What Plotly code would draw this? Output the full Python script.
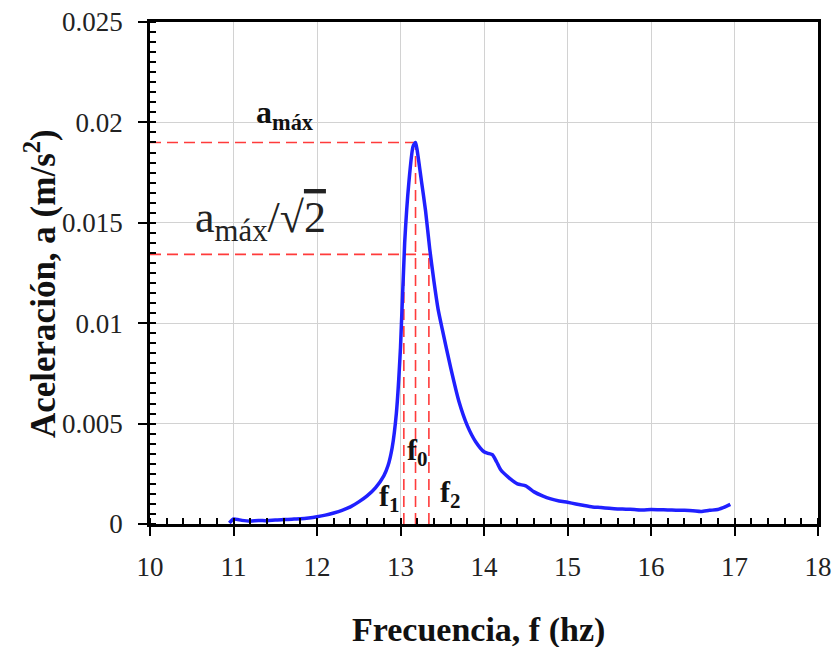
import plotly.graph_objects as go

# ---- data ----
freq = [10.95, 11.0, 11.05, 11.1, 11.2, 11.3, 11.4, 11.5, 11.6, 11.7, 11.8, 11.9,
        12.0, 12.1, 12.2, 12.3, 12.4, 12.5, 12.6, 12.7, 12.8, 12.85, 12.9, 12.95,
        13.0, 13.05, 13.1, 13.15, 13.18, 13.2, 13.25, 13.3, 13.35, 13.4, 13.45, 13.5,
        13.6, 13.7, 13.8, 13.9, 14.0, 14.05, 14.1, 14.15, 14.2, 14.3, 14.4, 14.5, 14.6,
        14.7, 14.8, 14.9, 15.0, 15.1, 15.2, 15.3, 15.4, 15.5, 15.6, 15.7, 15.8, 15.9,
        16.0, 16.1, 16.2, 16.3, 16.4, 16.5, 16.6, 16.7, 16.8, 16.9, 16.95]
accel = [0.00005, 0.00025, 0.00022, 0.00018, 0.00014, 0.00018, 0.00016, 0.0002, 0.00022, 0.00024, 0.00026, 0.0003,
         0.00036, 0.00044, 0.00055, 0.00068, 0.00085, 0.0011, 0.0014, 0.0018, 0.0024, 0.0029, 0.0038, 0.0055,
         0.0088, 0.0140, 0.0170, 0.0188, 0.0190, 0.0186, 0.0171, 0.0156, 0.0137, 0.0121, 0.0107, 0.0097,
         0.0078, 0.0061, 0.0049, 0.0041, 0.0036, 0.00352, 0.00345, 0.0031, 0.0027, 0.0023, 0.0020, 0.0019, 0.0016,
         0.0014, 0.00125, 0.00115, 0.00108, 0.0010, 0.00092, 0.00085, 0.00082, 0.00078, 0.00075, 0.00074, 0.00072, 0.0007,
         0.00072, 0.00071, 0.0007, 0.00069, 0.00068, 0.00066, 0.00062, 0.00068, 0.00072, 0.00088, 0.00098]

a_max = 0.0190
a_half = 0.01343
f0 = 13.18
f1 = 13.04
f2 = 13.34

x_ticks = [10, 11, 12, 13, 14, 15, 16, 17, 18]
y_ticks = [0, 0.005, 0.01, 0.015, 0.02, 0.025]
y_tick_text = ["0", "0.005", "0.01", "0.015", "0.02", "0.025"]

FONT = "Liberation Serif, Times New Roman, serif"
RED = "#ff3b3b"
BLUE = "#2020ff"

fig = go.Figure()

dash_style = dict(color=RED, width=1.6, dash="11px,6px")
# reference lines
fig.add_trace(go.Scatter(x=[10, f0], y=[a_max, a_max], mode="lines", line=dash_style, hoverinfo="skip"))
fig.add_trace(go.Scatter(x=[10, f2], y=[a_half, a_half], mode="lines", line=dash_style, hoverinfo="skip"))
fig.add_trace(go.Scatter(x=[f1, f1], y=[0, a_half], mode="lines", line=dash_style, hoverinfo="skip"))
fig.add_trace(go.Scatter(x=[f0, f0], y=[0, a_max], mode="lines", line=dash_style, hoverinfo="skip"))
fig.add_trace(go.Scatter(x=[f2, f2], y=[0, a_half], mode="lines", line=dash_style, hoverinfo="skip"))

# measured curve
fig.add_trace(go.Scatter(x=freq, y=accel, mode="lines",
                         line=dict(color=BLUE, width=3.5, shape="spline", smoothing=0.6)))

axis_common = dict(
    showline=True, linecolor="black", linewidth=2.5, mirror=True,
    showgrid=True, gridcolor="#d2d2d2", gridwidth=1,
    zeroline=False, automargin=False, ticklabeloverflow="allow",
    ticks="outside", ticklen=9, tickwidth=2, tickcolor="black",
    tickfont=dict(family=FONT, size=27, color="#222"),
)

fig.update_xaxes(range=[10, 18], tickvals=x_ticks, ticktext=[str(v) for v in x_ticks],
                 minor=dict(dtick=0.2, ticks="inside", ticklen=6, tickwidth=1.5, tickcolor="black", showgrid=False),
                 ticklabelstandoff=8, **axis_common)
fig.update_yaxes(range=[0, 0.025], tickvals=y_ticks, ticktext=y_tick_text,
                 minor=dict(dtick=0.0005, ticks="inside", ticklen=6, tickwidth=1.5, tickcolor="black", showgrid=False),
                 ticklabelstandoff=10, **axis_common)

c = dict(xanchor="center", yanchor="middle", showarrow=False)
ann = []
ann.append(dict(x=11.62, y=0.0204, xref="x", yref="y",
                text="<b>a<sub>máx</sub></b>", font=dict(family=FONT, size=32, color="#111"), **c))
ann.append(dict(x=11.32, y=0.0151, xref="x", yref="y",
                text="a<sub>máx</sub>/√<span style='text-decoration:overline'>2</span>",
                font=dict(family=FONT, size=44, color="#222"), **c))
ann.append(dict(x=13.2, y=0.0036, xref="x", yref="y",
                text="<b>f<sub>0</sub></b>", font=dict(family=FONT, size=30, color="#111"), **c))
ann.append(dict(x=12.87, y=0.0013, xref="x", yref="y",
                text="<b>f<sub>1</sub></b>", font=dict(family=FONT, size=30, color="#111"), **c))
ann.append(dict(x=13.6, y=0.0015, xref="x", yref="y",
                text="<b>f<sub>2</sub></b>", font=dict(family=FONT, size=30, color="#111"), **c))
# axis titles
ann.append(dict(x=0.4925, y=-0.211, xref="paper", yref="paper",
                text="<b>Frecuencia, f (hz)</b>", font=dict(family=FONT, size=34, color="#111"), **c))
ann.append(dict(x=-0.1647, y=0.48, xref="paper", yref="paper", textangle=-90,
                text="<b>Aceleración, a (m/s<sup>2</sup>)</b>", font=dict(family=FONT, size=35, color="#111"), **c))

fig.update_layout(
    width=833, height=647,
    margin=dict(l=150, r=15, t=22, b=123, autoexpand=False),
    font=dict(family=FONT, size=26, color="#222"),
    paper_bgcolor="white", plot_bgcolor="white",
    showlegend=False,
    annotations=ann,
)

fig.write_html("out.html", config={"displayModeBar": False},
               post_script="document.body.style.margin='0px';document.body.style.overflow='hidden';")
